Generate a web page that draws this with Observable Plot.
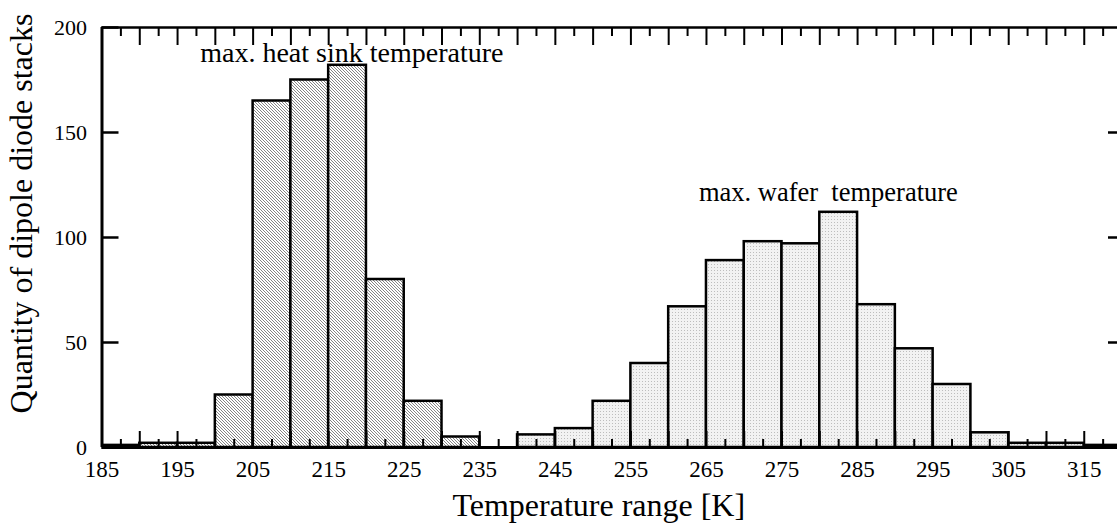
<!DOCTYPE html>
<html><head><meta charset="utf-8">
<script src="https://cdn.jsdelivr.net/npm/d3@7"></script>
<script src="https://cdn.jsdelivr.net/npm/@observablehq/plot@0.6"></script>
<style>
html,body{margin:0;padding:0;background:#fff;overflow:hidden}
#chart svg{display:block;white-space:pre}
</style></head><body><div id="chart"></div>
<script>
// Bin starts (K), bins are 5 K wide
const heatSinkBinStart = [185, 190, 195, 200, 205, 210, 215, 220, 225, 230];
const heatSinkCounts   = [1, 2, 2, 25, 165, 175, 182, 80, 22, 5];
const waferBinStart = [240, 245, 250, 255, 260, 265, 270, 275, 280, 285, 290, 295, 300, 305, 310, 315];
const waferCounts   = [6, 9, 22, 40, 67, 89, 98, 97, 112, 68, 47, 30, 7, 2, 2, 1];
const binWidth = 5;
const yTicks = [0, 50, 100, 150, 200];
const yRightTicks = [50, 100, 150];
const xTickLabels = [185, 195, 205, 215, 225, 235, 245, 255, 265, 275, 285, 295, 305, 315];
const xMajorTicks = [185, 190, 195, 200, 205, 210, 215, 220, 225, 230, 235, 240, 245, 250, 255, 260, 265, 270, 275, 280, 285, 290, 295, 300, 305, 310, 315];
const xMinorTicks = [187.5, 192.5, 197.5, 202.5, 207.5, 212.5, 217.5, 222.5, 227.5, 232.5, 237.5, 242.5, 247.5, 252.5, 257.5, 262.5, 267.5, 272.5, 277.5, 282.5, 287.5, 292.5, 297.5, 302.5, 307.5, 312.5, 317.5];
const yLabel = "Quantity of dipole diode stacks";
const xLabel = "Temperature range [K]";
const heatSinkLabel = "max. heat sink temperature";
const waferLabel = "max. wafer  temperature";

const toBins = (starts, counts) => starts.map((s, i) => ({x1: s, x2: s + binWidth, y: counts[i]}));

const svg = Plot.plot({
  width: 1117,
  height: 525,
  marginLeft: 101.5,
  marginRight: 0,
  marginTop: 27,
  marginBottom: 78,
  style: {fontFamily: "'Liberation Serif', 'Times New Roman', serif", color: "black", background: "white"},
  x: {domain: [185, 319.4]},
  y: {domain: [0, 200]},
  marks: [
    Plot.rectY(toBins(heatSinkBinStart, heatSinkCounts), {x1: "x1", x2: "x2", y: "y", fill: "url(#hatch)", stroke: "black", strokeWidth: 2.5, clip: true}),
    Plot.rectY(toBins(waferBinStart, waferCounts), {x1: "x1", x2: "x2", y: "y", fill: "url(#dots)", stroke: "black", strokeWidth: 2.5, clip: true}),
    Plot.ruleY([0], {strokeWidth: 3}),
    Plot.ruleY([200], {strokeWidth: 2.5}),
    Plot.ruleX([185], {strokeWidth: 3}),
    Plot.axisY(yTicks, {anchor: "left", tickSize: -17, text: null, strokeWidth: 2.5, label: null}),
    Plot.axisY(yTicks, {anchor: "left", tickSize: 0, tickPadding: 15, fontSize: 22, label: null}),
    Plot.axisY(yRightTicks, {anchor: "right", tickSize: -10, text: null, strokeWidth: 2.5, label: null}),
    Plot.axisX(xMajorTicks, {anchor: "bottom", tickSize: -16, text: null, strokeWidth: 2, label: null}),
    Plot.axisX(xMinorTicks, {anchor: "bottom", tickSize: -8, text: null, strokeWidth: 2, label: null}),
    Plot.axisX(xMajorTicks, {anchor: "top", tickSize: -17, text: null, strokeWidth: 2, label: null}),
    Plot.axisX(xMinorTicks, {anchor: "top", tickSize: -8, text: null, strokeWidth: 2, label: null}),
    Plot.axisX(xTickLabels, {anchor: "bottom", tickSize: 0, tickPadding: 13, fontSize: 23, label: null}),
    Plot.text([{t: heatSinkLabel, x: 198, y: 183.5}], {x: "x", y: "y", text: "t", textAnchor: "start", lineAnchor: "bottom", fontSize: 28, fill: "black"}),
    Plot.text([{t: waferLabel, x: 264, y: 117.6}], {x: "x", y: "y", text: "t", textAnchor: "start", lineAnchor: "bottom", fontSize: 26.5, fill: "black"}),
    Plot.text([yLabel], {frameAnchor: "left", textAnchor: "middle", rotate: -90, dx: -80, dy: -24, fontSize: 32, fill: "black"}),
    Plot.text([xLabel], {frameAnchor: "bottom", textAnchor: "middle", lineAnchor: "bottom", dx: -11, dy: 68, fontSize: 32, fill: "black"})
  ]
});

const defs = d3.select(svg).insert("defs", ":first-child");
const hatch = defs.append("pattern").attr("id", "hatch").attr("patternUnits", "userSpaceOnUse").attr("width", 3).attr("height", 3);
hatch.append("rect").attr("width", 3).attr("height", 3).attr("fill", "#ffffff");
[0, 1, 2].forEach(i => hatch.append("rect").attr("x", i).attr("y", i).attr("width", 1).attr("height", 1).attr("fill", "#858585"));
const dots = defs.append("pattern").attr("id", "dots").attr("patternUnits", "userSpaceOnUse").attr("width", 3).attr("height", 3);
dots.append("rect").attr("width", 3).attr("height", 3).attr("fill", "#f2f2f2");
dots.append("rect").attr("width", 1).attr("height", 1).attr("fill", "#bdbdbd");

document.getElementById("chart").appendChild(svg);
</script>
</body></html>
